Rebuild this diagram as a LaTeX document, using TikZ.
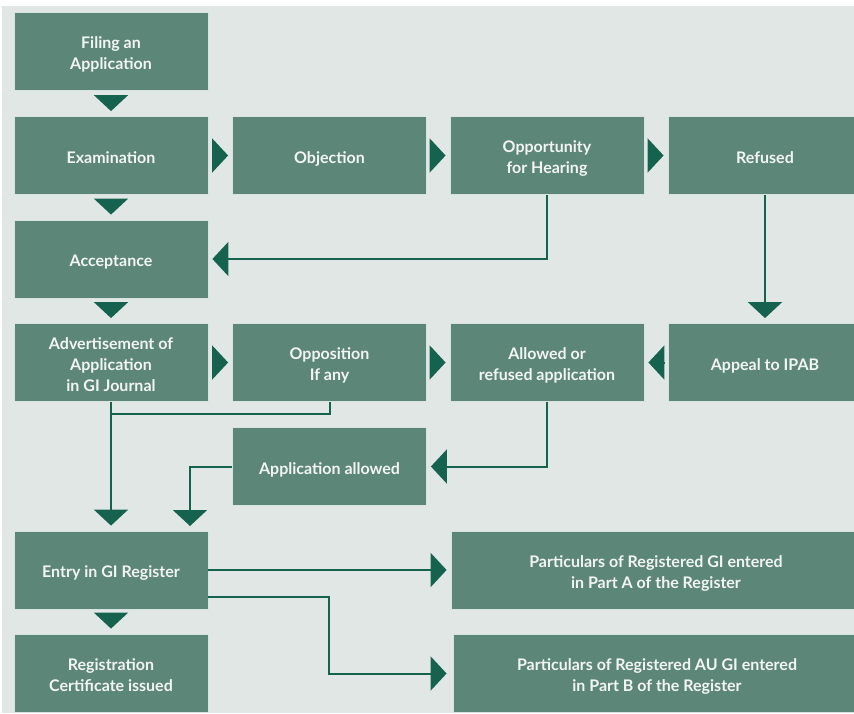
\documentclass[tikz,border=0pt]{standalone}
\usepackage{fontspec}
\setmainfont{Lato}
\usetikzlibrary{arrows.meta,calc}
\definecolor{pagebg}{HTML}{E1E7E5}
\definecolor{boxfill}{HTML}{5C8678}
\definecolor{boxline}{HTML}{D8E2DE}
\definecolor{flow}{HTML}{15634F}
\definecolor{boxtext}{HTML}{F3F5F4}
% invisible struts that fix the height of the first line and the depth of the last
\newcommand\stTop{\rule{0pt}{19pt}}
\newcommand\stBot{\rule[-3.5pt]{0pt}{3.5pt}}
\tikzset{
  stage/.style={rectangle, fill=boxfill, draw=boxline, line width=0.8pt,
    minimum width=194pt, minimum height=78pt, align=center, inner sep=0pt,
    text=boxtext, font=\bfseries\fontsize{16}{21}\selectfont},
  wide/.style={stage, minimum width=410pt},
  flowline/.style={draw=flow, line width=2pt},
  arr/.style={flowline, -{Triangle[width=34pt,length=16pt]}},
  tri/.style={arr, shorten <=4pt, shorten >=4pt},
  trid/.style={arr, shorten <=5pt, shorten >=5pt},
}
\begin{document}
\begin{tikzpicture}[x=1pt, y=-1pt]
  \useasboundingbox (0,0) rectangle (854,713);
  \clip (0,0) rectangle (854,713);
  \fill[white] (0,0) rectangle (854,713);
  \fill[pagebg] (2,6) rectangle (854,713);

  % left column
  \node[stage] (filing) at (111,51)    {\stTop Filing an\\Application\stBot};
  \node[stage] (exam)   at (111,155.5) {\stTop Examination\stBot};
  \node[stage] (accept) at (111,259)   {\stTop Acceptance\stBot};
  \node[stage] (advert) at (111,362.5) {\stTop Advertisement of\\Application\\in GI Journal\stBot};
  \node[stage] (entry)  at (111,570)   {\stTop Entry in GI Register\stBot};
  \node[stage] (cert)   at (111,673)   {\stTop Registration\\Certificate issued\stBot};

  % second column
  \node[stage] (object) at (329.5,155.5) {\stTop Objection\stBot};
  \node[stage] (oppos)  at (329.5,362.5) {\stTop Opposition\\If any\stBot};
  \node[stage] (appok)  at (329.5,466.5) {\stTop Application allowed\stBot};

  % third column
  \node[stage] (hearing) at (547,155.5) {\stTop Opportunity\\for Hearing\stBot};
  \node[stage] (decide)  at (547,362.5) {\stTop Allowed or\\refused application\stBot};

  % fourth column
  \node[stage] (refused) at (765,155.5) {\stTop Refused\stBot};
  \node[stage] (appeal)  at (765,362.5) {\stTop Appeal to IPAB\stBot};

  % register parts
  \node[wide] (partA) at (656,570) {\stTop Particulars of Registered GI entered\\in Part A of the Register\stBot};
  \node[wide, minimum width=408pt] (partB) at (657,673.5) {\stTop Particulars of Registered AU GI entered\\in Part B of the Register\stBot};

  % bend points
  \coordinate (join)  at (111,414);
  \coordinate (drop)  at (190,531);
  \coordinate (bendB) at (329,640);

  % straight steps
  \draw[trid] (filing) -- (exam);
  \draw[trid] (exam) -- (accept);
  \draw[trid] (accept) -- (advert);
  \draw[trid] (entry) -- (cert);
  \draw[tri] (exam) -- (object);
  \draw[tri] (object) -- (hearing);
  \draw[tri] (hearing) -- (refused);
  \draw[tri] (advert) -- (oppos);
  \draw[tri] (oppos) -- (decide);
  \draw[tri] (appeal) -- (decide);

  % routed connectors
  \draw[arr, shorten >=4pt] (hearing.south) |- (accept.east);
  \draw[arr, shorten >=5pt] (refused.south) -- (appeal.north);
  \draw[arr, shorten >=5pt] (advert.south) -- (entry.north);
  \draw[flowline] (oppos.south) |- (join);
  \draw[arr, shorten >=4pt] (decide.south) |- (appok.east);
  \draw[arr, shorten >=5pt] (appok.west) -| (drop);
  \draw[arr, shorten >=4pt] (entry.east) -- (partA.west);
  \draw[arr, shorten >=6pt] ([yshift=-27pt]entry.east) -| (bendB) |- (partB.west);
\end{tikzpicture}
\end{document}
